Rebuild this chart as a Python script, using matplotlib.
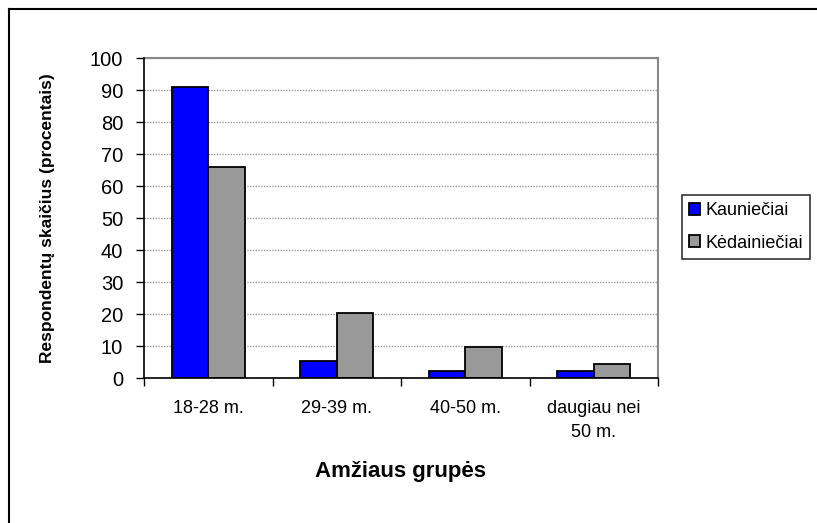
import matplotlib
matplotlib.use("Agg")
import matplotlib.pyplot as plt
import numpy as np
from matplotlib.lines import Line2D

categories = ["18-28 m.", "29-39 m.", "40-50 m.", "daugiau nei\n50 m."]
kaunieciai = [91, 5.3, 2.2, 2.2]
kedainieciai = [66, 20.4, 9.7, 4.3]
series_names = ["Kauniečiai", "Kėdainiečiai"]
yticks = list(range(0, 101, 10))

plt.rcParams['font.family'] = ['Liberation Sans', 'DejaVu Sans']

W, H = 817, 523
fig = plt.figure(figsize=(W / 100, H / 100), dpi=100)
ax = fig.add_axes([144 / W, (H - 378) / H, (658 - 144) / W, (378 - 58) / H])

x = np.arange(len(categories))
bw = 1 / 3.5
ax.bar(x - bw / 2, kaunieciai, bw, color="#0000FF", edgecolor="black", linewidth=1.3, label=series_names[0], zorder=3)
ax.bar(x + bw / 2, kedainieciai, bw, color="#999999", edgecolor="black", linewidth=1.3, label=series_names[1], zorder=3)

ax.set_xlim(-0.5, len(categories) - 0.5)
ax.set_ylim(0, 100)
ax.set_yticks(yticks)
ax.tick_params(axis='y', direction='out', length=6, width=1, labelsize=14.5, pad=9)
ax.set_xticks(x)
ax.set_xticklabels(categories, fontsize=13, linespacing=1.55)
ax.tick_params(axis='x', which='major', length=0, pad=16)
ax.set_xticks(np.arange(len(categories) + 1) - 0.5, minor=True)
ax.tick_params(axis='x', which='minor', direction='out', length=6, width=1)

ax.yaxis.grid(True, color="#999999", linestyle=(0, (1, 1)), linewidth=1, zorder=0)
ax.set_axisbelow(True)
for s in ["top", "right"]:
    ax.spines[s].set_color("#888888")
    ax.spines[s].set_linewidth(1.5)
for s in ["left", "bottom"]:
    ax.spines[s].set_color("black")
    ax.spines[s].set_linewidth(1.2)
    ax.spines[s].set_zorder(4)

ax.set_ylabel("Respondentų skaičius (procentais)", fontsize=12.5, fontweight='bold')
ax.yaxis.set_label_coords((47 - 144) / (658 - 144), 0.5)
ax.set_xlabel("Amžiaus grupės", fontsize=16, fontweight='bold')
ax.xaxis.set_label_coords(0.5, -(472 - 378) / (378 - 58))
ax.xaxis.label.set_va('center')
ax.yaxis.label.set_va('center')

leg = fig.legend(loc='upper left', bbox_to_anchor=(682 / W, 1 - 195 / H), fontsize=13,
                 frameon=True, fancybox=False, edgecolor='black', handlelength=0.6, handleheight=0.6,
                 handletextpad=0.3, borderpad=0.4, labelspacing=0.85, borderaxespad=0)
leg.get_frame().set_linewidth(1.2)

# outer chart frame
fig.add_artist(Line2D([9 / W, 1], [1 - 9 / H, 1 - 9 / H], transform=fig.transFigure, color='black', lw=1.5))
fig.add_artist(Line2D([9 / W, 9 / W], [0, 1 - 9 / H], transform=fig.transFigure, color='black', lw=1.5))

fig.savefig("out.png", dpi=100)
